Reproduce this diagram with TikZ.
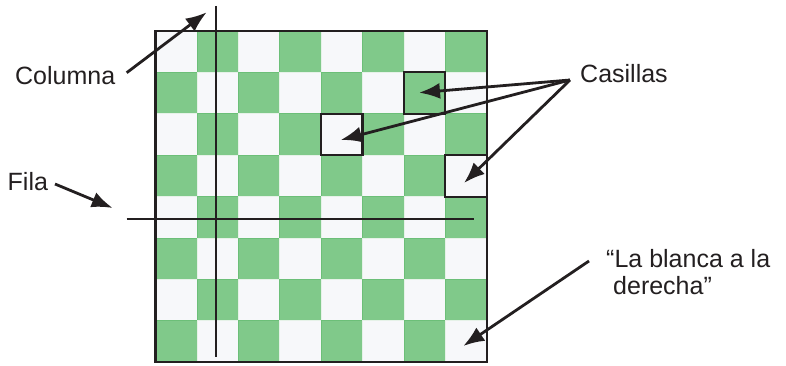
\documentclass[tikz,border=0pt]{standalone}
\usepackage{fontspec}
\setmainfont{Liberation Sans}
\usetikzlibrary{arrows.meta}
\definecolor{sqgreen}{HTML}{80C98A}
\definecolor{sqgreenedge}{HTML}{6CBF78}
\definecolor{sqwhite}{HTML}{F7F8FA}
\definecolor{sqwhiteedge}{HTML}{E6F2E8}
\definecolor{ink}{HTML}{231F20}
\tikzset{
  greensq/.style={fill=sqgreen, draw=sqgreenedge, line width=0.8pt},
  whitesq/.style={fill=sqwhite, draw=sqwhiteedge, line width=0.8pt},
  hlbox/.style={draw=ink, line width=2.2pt},
  guide/.style={draw=ink, line width=1.8pt},
  pointer/.style={draw=ink, line width=2.8pt, -{Latex[length=21pt,width=16pt]}},
  lbl/.style={font=\fontsize{25}{30}\selectfont, text=ink, inner sep=0pt, anchor=base west},
}
\begin{document}
\begin{tikzpicture}[x=1pt,y=-1pt]
\useasboundingbox (0,0) rectangle (786,366);
\def\sx{155.5}\def\sy{31}\def\sq{41.4}
% board squares
\foreach \i in {0,...,7}{
  \foreach \j in {0,...,7}{
    \pgfmathtruncatemacro{\parity}{mod(\i+\j,2)}
    \ifnum\parity=1
      \path[greensq] ({\sx+\i*\sq},{\sy+\j*\sq}) rectangle ++(\sq,\sq);
    \else
      \path[whitesq] ({\sx+\i*\sq},{\sy+\j*\sq}) rectangle ++(\sq,\sq);
    \fi
  }
}
% board outline
\draw[ink, line width=2.2pt] (\sx,\sy) rectangle ({\sx+8*\sq},{\sy+8*\sq});
% highlighted squares
\node[hlbox, minimum size=41.4pt, inner sep=0pt] (c61) at ({\sx+6.5*\sq},{\sy+1.5*\sq}) {};
\node[hlbox, minimum size=41.4pt, inner sep=0pt] (c42) at ({\sx+4.5*\sq},{\sy+2.5*\sq}) {};
\node[hlbox, minimum size=41.4pt, inner sep=0pt] (c73) at ({\sx+7.5*\sq},{\sy+3.5*\sq}) {};
% column and row guides
\coordinate (colTop) at (215.7,6);
\coordinate (colBot) at (215.7,356.7);
\coordinate (rowL) at (126.7,219.3);
\coordinate (rowR) at (474,219.3);
\draw[guide] (colTop) -- (colBot);
\draw[guide] (rowL) -- (rowR);
% labels
\node[lbl] (columna) at (15,85) {Columna};
\node[lbl] (fila) at (7.5,190) {Fila};
\node[lbl] (casillas) at (580,83) {Casillas};
\node[lbl] (blanca1) at (606,267.5) {“La blanca a la};
\node[lbl] (blanca2) at (613,294) {derecha”};
% arrow endpoints
\coordinate (colS) at (126.7,72.7);
\coordinate (colT) at (206.7,12.3);
\coordinate (filS) at (55,184);
\coordinate (filT) at (112.7,208);
\coordinate (casS) at (570,80);
\coordinate (cas1) at (419,92.7);
\coordinate (cas2) at (340.7,140);
\coordinate (cas3) at (464,183);
\coordinate (blaS) at (589,261);
\coordinate (blaT) at (463.3,346);
\draw[pointer] (colS) -- (colT);
\draw[pointer] (filS) -- (filT);
\draw[pointer] (casS) -- (cas1);
\draw[pointer] (casS) -- (cas2);
\draw[pointer] (casS) -- (cas3);
\draw[pointer] (blaS) -- (blaT);
\end{tikzpicture}
\end{document}
